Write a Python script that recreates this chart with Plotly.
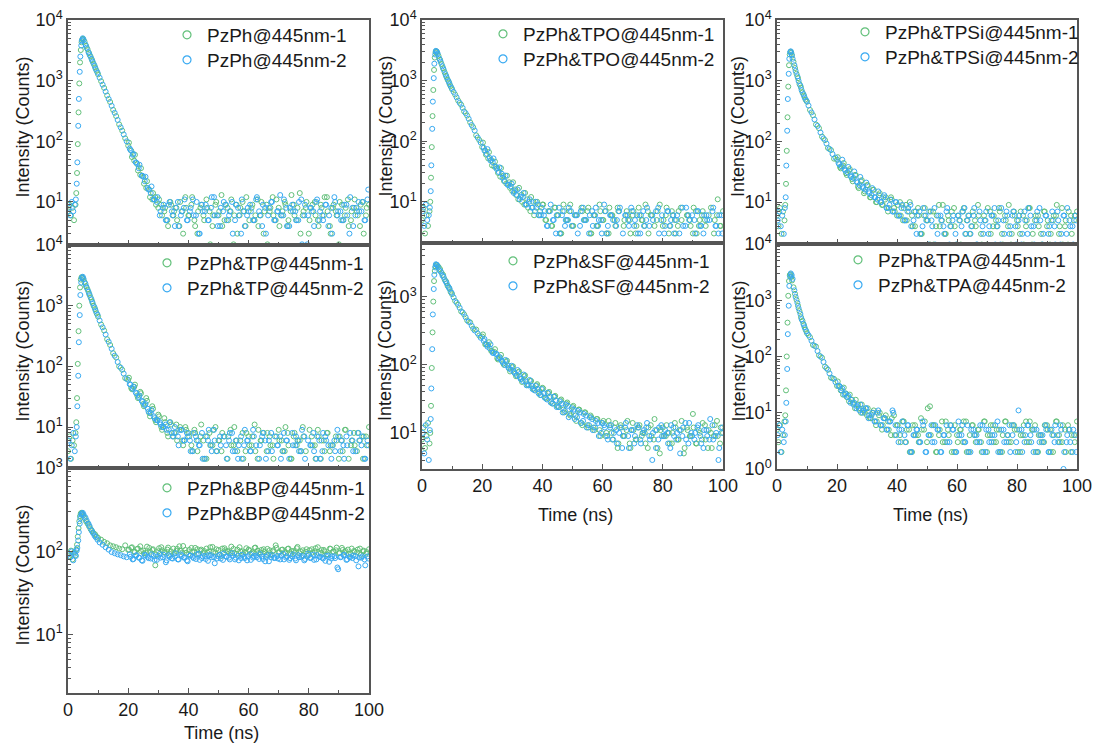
import plotly.graph_objects as go

# ---------------- time grids (ns) ----------------
T1 = [0, 0.5, 1, 1.5, 2, 2.5, 2.75, 3, 3.25, 3.5, 3.75, 4, 4.25, 4.5, 4.75, 5, 5.5, 6, 6.5, 7, 7.5, 8, 8.5, 9, 9.5, 10,
      11, 12, 13, 14, 15, 16, 17, 18, 19, 20, 21, 22, 23, 24, 25, 26, 27, 28, 29, 30,
      31, 32, 33, 34, 35, 36, 37, 38, 39, 40, 41, 42, 43, 44, 45, 46, 47, 48, 49, 50,
      51, 52, 53, 54, 55, 56, 57, 58, 59, 60, 61, 62, 63, 64, 65, 66, 67, 68, 69, 70,
      71, 72, 73, 74, 75, 76, 77, 78, 79, 80, 81, 82, 83, 84, 85, 86, 87, 88, 89, 90,
      91, 92, 93, 94, 95, 96, 97, 98, 99, 100]
T2 = [0.25, 0.75, 1.25, 1.75, 2.25, 2.6, 2.9, 3.1, 3.4, 3.6, 3.9, 4.1, 4.4, 4.6, 4.9, 5.2, 5.8, 6.2, 6.8, 7.2, 7.8, 8.2, 8.8, 9.2, 9.8,
      10.5, 11.5, 12.5, 13.5, 14.5, 15.5, 16.5, 17.5, 18.5, 19.5, 20.5, 21.5, 22.5, 23.5, 24.5, 25.5, 26.5, 27.5, 28.5, 29.5,
      30.5, 31.5, 32.5, 33.5, 34.5, 35.5, 36.5, 37.5, 38.5, 39.5, 40.5, 41.5, 42.5, 43.5, 44.5, 45.5, 46.5, 47.5, 48.5, 49.5,
      50.5, 51.5, 52.5, 53.5, 54.5, 55.5, 56.5, 57.5, 58.5, 59.5, 60.5, 61.5, 62.5, 63.5, 64.5, 65.5, 66.5, 67.5, 68.5, 69.5,
      70.5, 71.5, 72.5, 73.5, 74.5, 75.5, 76.5, 77.5, 78.5, 79.5, 80.5, 81.5, 82.5, 83.5, 84.5, 85.5, 86.5, 87.5, 88.5, 89.5,
      90.5, 91.5, 92.5, 93.5, 94.5, 95.5, 96.5, 97.5, 98.5, 99.5]
# extra tail channels (20-100 ns)
TB1 = [20.25, 21.25, 22.25, 23.25, 24.25, 25.25, 26.25, 27.25, 28.25, 29.25,
       30.25, 31.25, 32.25, 33.25, 34.25, 35.25, 36.25, 37.25, 38.25, 39.25,
       40.25, 41.25, 42.25, 43.25, 44.25, 45.25, 46.25, 47.25, 48.25, 49.25,
       50.25, 51.25, 52.25, 53.25, 54.25, 55.25, 56.25, 57.25, 58.25, 59.25,
       60.25, 61.25, 62.25, 63.25, 64.25, 65.25, 66.25, 67.25, 68.25, 69.25,
       70.25, 71.25, 72.25, 73.25, 74.25, 75.25, 76.25, 77.25, 78.25, 79.25,
       80.25, 81.25, 82.25, 83.25, 84.25, 85.25, 86.25, 87.25, 88.25, 89.25,
       90.25, 91.25, 92.25, 93.25, 94.25, 95.25, 96.25, 97.25, 98.25, 99.25]
TB2 = [20.75, 21.75, 22.75, 23.75, 24.75, 25.75, 26.75, 27.75, 28.75, 29.75,
       30.75, 31.75, 32.75, 33.75, 34.75, 35.75, 36.75, 37.75, 38.75, 39.75,
       40.75, 41.75, 42.75, 43.75, 44.75, 45.75, 46.75, 47.75, 48.75, 49.75,
       50.75, 51.75, 52.75, 53.75, 54.75, 55.75, 56.75, 57.75, 58.75, 59.75,
       60.75, 61.75, 62.75, 63.75, 64.75, 65.75, 66.75, 67.75, 68.75, 69.75,
       70.75, 71.75, 72.75, 73.75, 74.75, 75.75, 76.75, 77.75, 78.75, 79.75,
       80.75, 81.75, 82.75, 83.75, 84.75, 85.75, 86.75, 87.75, 88.75, 89.75,
       90.75, 91.75, 92.75, 93.75, 94.75, 95.75, 96.75, 97.75, 98.75, 99.75]

# ---------------- counts ----------------
PZPH_1 = [7, 9, 6, 8, 5, 9, 14, 30, 90, 300, 900, 2000, 3200, 4300, 4800, 4900, 4400, 3750, 3300, 2850, 2500, 2180, 1900, 1660, 1450, 1270,
          980, 760, 570, 445, 330, 260, 190, 150, 112, 85, 70, 48, 42, 28, 26, 17, 16, 11, 12, 8,
          9, 7, 5, 10, 6, 8, 4, 7, 12, 6, 9, 5, 3, 8, 6, 11, 7, 4, 9, 6,
          13, 5, 8, 7, 2, 9, 6, 10, 4, 7, 8, 5, 11, 6, 3, 9, 7, 12, 5, 8,
          6, 10, 4, 7, 9, 5, 14, 6, 8, 3, 7, 10, 5, 9, 6, 12, 4, 8, 7, 2,
          9, 6, 11, 5, 8, 7, 4, 10, 6, 9]
PZPH_2 = [8, 6, 10, 7, 9, 11, 20, 45, 180, 500, 1400, 2500, 3800, 4600, 5000, 4700, 3950, 3500, 2950, 2650, 2300, 2050, 1780, 1560, 1360,
          1120, 860, 660, 500, 385, 295, 225, 170, 130, 100, 76, 60, 45, 36, 27, 22, 17, 14, 11, 10,
          6, 8, 5, 9, 7, 4, 10, 6, 8, 5, 7, 11, 6, 3, 9, 7, 5, 8, 12, 6,
          4, 7, 9, 6, 10, 5, 8, 3, 7, 6, 9, 5, 11, 7, 4, 8, 6, 10, 5, 7,
          13, 6, 8, 4, 9, 7, 5, 11, 6, 2, 8, 7, 10, 5, 6, 9, 4, 8, 12, 6,
          7, 5, 9, 3, 8, 6, 10, 7, 5, 11]
PZPH_1B = [95, 55, 60, 33, 36, 20, 22, 12, 14, 9, 11, 6, 8, 4, 9, 7, 5, 10, 3, 8,
           6, 12, 4, 7, 9, 5, 8, 2, 6, 10, 7, 4, 9, 5, 11, 6, 3, 8, 7, 12,
           5, 9, 6, 4, 10, 7, 2, 8, 6, 11, 4, 7, 9, 5, 13, 6, 8, 3, 7, 10,
           5, 9, 6, 4, 8, 12, 7, 3, 9, 6, 10, 5, 8, 4, 7, 11, 6, 9, 3, 8]
PZPH_2B = [72, 62, 44, 41, 27, 26, 16, 18, 11, 12, 7, 9, 5, 10, 6, 8, 4, 7, 11, 5,
           8, 6, 10, 3, 7, 9, 5, 12, 6, 4, 8, 10, 5, 7, 3, 9, 6, 11, 4, 8,
           7, 5, 12, 6, 9, 3, 8, 10, 5, 7, 6, 11, 4, 8, 7, 5, 10, 2, 9, 6,
           8, 4, 11, 7, 5, 9, 6, 3, 10, 7, 5, 9, 6, 12, 4, 8, 7, 10, 5, 16]

TPO_1 = [5, 8, 3, 6, 4, 7, 10, 25, 80, 260, 700, 1500, 2400, 2950, 3050, 2950, 2550, 2200, 1880, 1600, 1380, 1200, 1040, 930, 810, 720,
         590, 470, 400, 310, 265, 205, 170, 125, 105, 80, 70, 52, 49, 38, 36, 26, 27, 20, 21, 15,
         16, 11, 13, 9, 11, 7, 10, 8, 6, 9,
         5, 7, 4, 8, 6, 3, 9, 5, 7, 4, 6, 2, 8, 5, 7, 3, 6, 4, 9, 5,
         7, 3, 6, 5, 8, 2, 4, 7, 5, 6, 3, 8, 5, 4, 7, 6, 2, 5, 9, 4,
         6, 3, 7, 5, 4, 8, 2, 6, 5, 3, 7, 4, 6, 5, 2, 8, 3, 6, 4, 7]
TPO_2 = [7, 4, 9, 5, 6, 8, 15, 40, 160, 450, 1100, 1900, 2700, 3100, 3000, 2800, 2300, 2050, 1720, 1520, 1270, 1130, 980, 870, 760,
         650, 530, 430, 355, 290, 235, 185, 150, 115, 95, 78, 62, 53, 45, 38, 31, 29, 22, 19, 18,
         14, 13, 11, 12, 9, 10, 8, 7, 9, 6,
         6, 4, 7, 5, 3, 8, 6, 4, 5, 7, 2, 6, 4, 8, 5, 3, 7, 6, 4, 5,
         9, 3, 6, 5, 4, 7, 2, 6, 5, 8, 4, 6, 3, 7, 5, 4, 6, 2, 8, 5,
         3, 7, 4, 6, 5, 3, 8, 4, 6, 2, 5, 7, 4, 3, 6, 5, 7, 4, 3, 6]
TPO_1B = [95, 60, 66, 40, 46, 30, 36, 22, 27, 17, 21, 13, 17, 10, 14, 8, 12, 6, 10, 7,
          9, 5, 7, 4, 8, 6, 3, 7, 5, 9, 4, 6, 2, 7, 5, 8, 3, 6, 4, 7,
          5, 3, 8, 6, 4, 7, 2, 5, 6, 3, 7, 4, 6, 5, 9, 3, 6, 4, 7, 2,
          5, 8, 4, 6, 3, 7, 5, 2, 6, 4, 8, 3, 5, 7, 4, 6, 2, 5, 11, 4]
TPO_2B = [70, 74, 48, 52, 35, 37, 25, 27, 19, 20, 15, 16, 12, 14, 9, 11, 8, 10, 6, 8,
          7, 4, 9, 5, 6, 3, 7, 5, 8, 4, 6, 3, 7, 5, 2, 6, 4, 8, 5, 3,
          7, 4, 6, 2, 5, 8, 3, 6, 4, 7, 5, 3, 6, 4, 8, 2, 5, 7, 3, 6,
          4, 7, 5, 3, 6, 2, 4, 8, 5, 6, 3, 7, 4, 6, 5, 2, 8, 4, 6, 3]

TPSI_1 = [6, 4, 8, 3, 7, 5, 9, 20, 70, 250, 800, 1800, 2700, 3000, 2900, 2600, 2050, 1620, 1300, 1100, 880, 770, 640, 570, 490, 450,
          330, 270, 190, 165, 120, 105, 78, 72, 52, 50, 38, 40, 30, 33, 24, 28, 18, 22, 14, 19,
          12, 16, 10, 13, 9, 11, 7, 12, 8, 6, 10, 5, 9, 7, 6,
          4, 8, 3, 6, 5, 2, 7, 4, 9, 5, 3, 6, 4, 8, 2, 5, 7, 3, 6, 4,
          5, 9, 3, 6, 2, 7, 4, 5, 8, 3, 6, 4, 2, 7, 5, 3, 6, 4, 8, 2,
          5, 6, 3, 7, 4, 2, 5, 6, 3, 8, 4, 2, 6, 5, 7]
TPSI_2 = [5, 7, 4, 6, 3, 8, 12, 40, 150, 500, 1300, 2300, 2950, 3050, 2700, 2300, 1800, 1450, 1180, 990, 830, 700, 600, 530, 470,
          390, 300, 230, 180, 140, 112, 92, 75, 62, 54, 44, 39, 35, 31, 27, 25, 22, 19, 18, 16,
          15, 13, 12, 11, 10, 12, 8, 9, 7, 10, 6, 8, 5, 7, 9,
          5, 3, 7, 4, 6, 2, 5, 8, 3, 6, 4, 7, 2, 5, 3, 6, 4, 8, 5, 3,
          6, 2, 7, 4, 5, 3, 6, 8, 4, 2, 5, 7, 3, 6, 4, 5, 2, 7, 3, 6,
          4, 5, 8, 2, 6, 3, 5, 4, 7, 2, 6, 3, 5, 4, 6]
TPSI_1B = [55, 36, 44, 28, 35, 22, 28, 17, 23, 15, 19, 12, 16, 10, 14, 9, 12, 8, 11, 7,
           9, 6, 8, 5, 10, 4, 7, 6, 3, 8, 5, 7, 2, 6, 4, 9, 3, 5, 7, 4,
           6, 2, 8, 5, 3, 7, 4, 6, 2, 5, 8, 3, 6, 4, 7, 2, 5, 9, 3, 6,
           4, 7, 2, 5, 8, 3, 6, 4, 2, 7, 5, 3, 6, 9, 4, 2, 5, 7, 3, 6]
TPSI_2B = [42, 50, 33, 38, 26, 32, 21, 26, 17, 21, 14, 17, 12, 15, 10, 13, 8, 11, 7, 10,
           6, 9, 5, 8, 4, 7, 6, 3, 8, 5, 7, 4, 2, 6, 5, 3, 8, 4, 6, 2,
           5, 7, 3, 6, 4, 8, 2, 5, 3, 7, 4, 6, 2, 5, 8, 3, 6, 4, 7, 2,
           6, 3, 5, 8, 4, 2, 7, 5, 3, 6, 4, 7, 2, 5, 3, 6, 8, 4, 2, 5]

TP_1 = [4, 7, 3, 6, 5, 8, 12, 30, 110, 380, 1000, 2000, 2700, 2950, 2900, 2850, 2450, 2100, 1850, 1580, 1370, 1170, 1000, 880, 750, 660,
        490, 390, 280, 225, 165, 140, 100, 88, 64, 60, 44, 46, 33, 38, 24, 30, 17, 22, 13, 16,
        10, 14, 8, 12, 7, 11, 9, 6, 10, 8,
        5, 9, 4, 7, 6, 3, 8, 5, 10, 6, 4, 7, 3, 9, 5, 6, 2, 8, 4, 7,
        5, 11, 3, 6, 8, 4, 7, 5, 2, 9, 6, 4, 8, 3, 7, 5, 6, 10, 4, 2,
        7, 5, 9, 3, 6, 8, 4, 5, 7, 3, 6, 9, 2, 5, 8, 4, 6, 3, 7, 10]
TP_2 = [6, 3, 5, 8, 4, 7, 10, 22, 70, 250, 700, 1500, 2400, 2900, 3000, 2750, 2300, 2000, 1700, 1500, 1270, 1100, 940, 820, 710,
        570, 440, 335, 255, 195, 150, 118, 95, 76, 62, 51, 43, 37, 31, 27, 23, 20, 17, 15, 13,
        12, 10, 11, 9, 8, 10, 7, 9, 6, 8,
        6, 4, 7, 5, 8, 3, 6, 5, 9, 4, 7, 2, 5, 6, 8, 4, 3, 7, 5, 6,
        4, 9, 5, 3, 7, 6, 4, 8, 2, 5, 7, 4, 6, 3, 8, 5, 6, 4, 7, 2,
        5, 8, 3, 6, 4, 7, 5, 3, 6, 9, 4, 5, 7, 2, 6, 4, 8, 5, 3, 6]
TP_1B = [65, 42, 50, 30, 36, 22, 27, 15, 20, 12, 15, 9, 12, 7, 11, 8, 6, 10, 5, 9,
         7, 4, 8, 6, 11, 3, 7, 5, 9, 4, 6, 8, 2, 7, 5, 10, 4, 6, 3, 8,
         5, 7, 4, 9, 6, 2, 8, 5, 3, 7, 6, 4, 10, 5, 3, 8, 6, 4, 7, 2,
         9, 5, 3, 7, 6, 4, 8, 5, 2, 6, 7, 4, 9, 3, 6, 5, 8, 2, 7, 5]
TP_2B = [50, 46, 36, 33, 26, 24, 18, 19, 14, 13, 11, 10, 9, 12, 7, 8, 5, 9, 6, 7,
         4, 8, 6, 5, 3, 7, 9, 4, 6, 2, 5, 7, 3, 8, 4, 6, 5, 3, 9, 6,
         4, 7, 2, 5, 8, 3, 6, 4, 7, 5, 3, 8, 6, 2, 5, 7, 4, 9, 3, 6,
         5, 4, 7, 3, 8, 6, 2, 5, 4, 7, 6, 3, 5, 8, 4, 2, 6, 7, 3, 5]

SF_1 = [8, 12, 6, 9, 14, 7, 10, 25, 90, 300, 850, 1700, 2400, 2800, 2950, 2900, 2750, 2550, 2250, 2100, 1800, 1680, 1450, 1350, 1180, 1090,
        870, 760, 610, 550, 450, 420, 340, 330, 270, 260,
        200, 195, 160, 155, 125, 128, 105, 110, 88, 92,
        74, 78, 62, 68, 52, 58, 45, 50, 40, 46,
        33, 38, 29, 34, 25, 30, 22, 27, 19, 24,
        18, 22, 14, 20, 13, 18, 12, 16, 11, 14,
        9, 15, 10, 12, 6, 13, 9, 11, 7, 14,
        8, 12, 9, 10, 6, 13, 8, 11, 5, 12,
        9, 10, 7, 14, 8, 11, 5, 12, 9, 19,
        7, 11, 8, 13, 6, 10, 9, 15, 7, 10]
SF_2 = [10, 5, 13, 8, 4, 11, 16, 45, 170, 550, 1300, 2100, 2700, 3000, 2950, 2800, 2450, 2350, 2050, 1950, 1700, 1580, 1400, 1300, 1150,
        980, 820, 690, 590, 500, 430, 375, 320, 290, 250,
        225, 200, 175, 150, 145, 125, 115, 100, 98, 85,
        80, 70, 66, 58, 57, 50, 49, 42, 44, 36,
        38, 31, 34, 27, 30, 24, 27, 21, 25, 19,
        22, 17, 20, 15, 18, 13, 16, 12, 14, 10,
        13, 9, 12, 8, 11, 10, 6, 12, 9, 11,
        7, 13, 8, 10, 12, 9, 4, 11, 8, 13,
        9, 10, 6, 12, 8, 11, 9, 14, 7, 10,
        8, 12, 9, 6, 11, 8, 13, 9, 4, 10]
SF_1B = [280, 200, 215, 160, 170, 120, 140, 100, 115, 80, 95, 68, 80, 56, 70, 50, 58, 43, 52, 36,
         45, 32, 40, 27, 35, 24, 31, 20, 28, 18, 25, 15, 22, 13, 20, 12, 17, 11, 16, 9,
         15, 10, 13, 8, 14, 7, 12, 9, 15, 6, 11, 8, 13, 10, 7, 12, 9, 16, 6, 11,
         9, 13, 7, 10, 12, 8, 15, 6, 11, 9, 12, 7, 10, 14, 8, 11, 6, 13, 9, 12]
SF_2B = [240, 185, 200, 150, 145, 130, 110, 118, 90, 97, 76, 84, 62, 72, 50, 60, 44, 49, 38, 44,
         33, 39, 28, 34, 24, 29, 20, 26, 17, 23, 16, 21, 14, 19, 12, 17, 11, 15, 9, 14,
         12, 8, 13, 10, 7, 12, 9, 14, 6, 11, 9, 12, 7, 11, 14, 8, 10, 6, 12, 9,
         11, 7, 13, 9, 10, 5, 12, 8, 14, 9, 10, 13, 7, 11, 9, 16, 8, 10, 6, 12]

TPA_1 = [5, 3, 6, 2, 4, 7, 9, 25, 100, 400, 1200, 2200, 2800, 2900, 2600, 2250, 1700, 1300, 1020, 800, 640, 500, 430, 360, 300, 260,
         220, 160, 150, 105, 95, 66, 58, 42, 40, 30, 29, 21, 22, 16, 17, 12, 14, 10, 11, 9,
         8, 10, 6, 9, 5, 8, 7, 4, 9, 6,
         4, 7, 3, 5, 2, 6, 4, 8, 5, 3, 13, 6, 2, 4, 7, 3, 5, 6, 2, 4,
         5, 3, 7, 2, 6, 4, 5, 3, 7, 2, 4, 6, 3, 5, 2, 7, 4, 3, 6, 5,
         2, 4, 7, 3, 5, 6, 2, 4, 3, 6, 5, 2, 7, 4, 3, 5, 6, 2, 4, 7]
TPA_2 = [4, 6, 2, 5, 3, 4, 7, 15, 60, 250, 800, 1800, 2600, 3000, 2800, 2400, 1500, 1150, 900, 720, 570, 460, 380, 330, 280,
         240, 190, 155, 125, 100, 80, 62, 50, 41, 35, 30, 25, 21, 19, 15, 14, 12, 11, 10, 12,
         8, 9, 7, 10, 6, 8, 5, 7, 11, 6,
         3, 5, 4, 6, 2, 4, 5, 3, 7, 2, 4, 6, 3, 5, 2, 4, 6, 3, 5, 2,
         7, 4, 3, 6, 2, 5, 4, 3, 6, 2, 5, 3, 4, 7, 2, 5, 3, 6, 4, 2,
         11, 5, 3, 6, 4, 2, 5, 3, 4, 6, 2, 5, 3, 4, 6, 1, 3, 5, 2, 4]
TPA_1B = [36, 25, 28, 19, 21, 15, 17, 12, 14, 10, 12, 8, 11, 7, 10, 6, 9, 5, 8, 4,
          6, 3, 7, 5, 2, 6, 4, 3, 5, 7, 12, 4, 6, 2, 5, 3, 7, 4, 2, 6,
          3, 5, 7, 2, 4, 6, 3, 5, 2, 7, 4, 6, 3, 5, 2, 4, 7, 3, 6, 5,
          2, 4, 6, 3, 7, 5, 2, 4, 3, 6, 5, 2, 4, 7, 3, 6, 2, 5, 4, 3]
TPA_2B = [30, 27, 22, 20, 17, 15, 13, 14, 11, 12, 9, 10, 7, 11, 6, 8, 5, 7, 10, 4,
          5, 7, 3, 6, 2, 4, 5, 3, 6, 2, 4, 3, 6, 5, 2, 4, 3, 6, 5, 2,
          4, 6, 3, 2, 5, 4, 3, 6, 2, 5, 3, 4, 6, 2, 5, 3, 4, 2, 6, 3,
          5, 2, 4, 6, 3, 5, 2, 4, 3, 5, 2, 4, 6, 3, 5, 2, 4, 3, 5, 2]

BP_1 = [95, 88, 102, 80, 97, 90, 105, 120, 150, 190, 230, 265, 285, 290, 280, 270, 250, 230, 215, 200, 185, 175, 165, 160, 150, 145,
        138, 130, 125, 118, 115, 112, 108, 106, 118, 104,
        110, 99, 107, 115, 102, 96, 110, 104, 68, 100,
        112, 98, 105, 93, 108, 101, 115, 97, 104, 92,
        110, 99, 106, 102, 95, 108, 100, 113, 97, 104,
        88, 109, 101, 96, 107, 93, 112, 100, 98, 105,
        94, 110, 102, 97, 106, 91, 103, 100, 118, 96,
        104, 98, 107, 93, 101, 109, 95, 103, 99, 90,
        106, 100, 112, 96, 104, 92, 108, 99, 103, 95,
        110, 98, 105, 93, 101, 97, 108, 100, 94, 106]
BP_2 = [92, 85, 100, 78, 94, 88, 102, 110, 135, 170, 215, 250, 275, 285, 290, 275, 255, 235, 215, 200, 180, 168, 155, 148, 138,
        128, 120, 112, 105, 98, 95, 92, 90, 87, 85,
        92, 80, 89, 84, 78, 91, 86, 82, 88, 79,
        93, 85, 74, 90, 83, 87, 80, 92, 84, 78,
        89, 86, 81, 94, 83, 88, 77, 90, 85, 82,
        91, 79, 87, 84, 95, 80, 88, 83, 86, 78,
        92, 84, 89, 81, 87, 76, 90, 85, 83, 88,
        80, 93, 84, 79, 87, 82, 90, 85, 78, 88,
        83, 91, 80, 86, 84, 77, 89, 82, 87, 64,
        85, 90, 79, 86, 83, 88, 66, 84, 80, 87]
BP_1B = [105, 112, 98, 108, 101, 95, 114, 99, 106, 92, 109, 103, 97, 111, 100, 94, 107, 102, 116, 96,
         104, 99, 110, 93, 105, 101, 97, 112, 98, 106, 91, 108, 103, 99, 114, 96, 105, 100, 93, 109,
         102, 97, 111, 95, 104, 99, 107, 92, 103, 110, 98, 105, 94, 108, 101, 96, 113, 100, 89, 106,
         103, 97, 109, 95, 104, 100, 92, 107, 99, 111, 96, 104, 101, 93, 108, 99, 105, 91, 102, 98]
BP_2B = [86, 81, 90, 84, 77, 89, 83, 92, 79, 87, 84, 91, 78, 86, 82, 95, 80, 88, 85, 76,
         89, 83, 92, 79, 87, 81, 90, 85, 72, 88, 82, 94, 86, 80, 89, 84, 78, 91, 83, 87,
         79, 88, 85, 93, 81, 86, 76, 90, 84, 82, 89, 80, 87, 83, 92, 78, 85, 88, 81, 94,
         84, 79, 90, 86, 82, 88, 75, 87, 83, 61, 86, 91, 80, 85, 89, 78, 84, 87, 68, 82]

SAMPLES = ["PzPh", "PzPh&TPO", "PzPh&TPSi", "PzPh&TP", "PzPh&SF", "PzPh&TPA", "PzPh&BP"]
SERIES = [
    ((PZPH_1, PZPH_1B), (PZPH_2, PZPH_2B)),
    ((TPO_1, TPO_1B), (TPO_2, TPO_2B)),
    ((TPSI_1, TPSI_1B), (TPSI_2, TPSI_2B)),
    ((TP_1, TP_1B), (TP_2, TP_2B)),
    ((SF_1, SF_1B), (SF_2, SF_2B)),
    ((TPA_1, TPA_1B), (TPA_2, TPA_2B)),
    ((BP_1, BP_1B), (BP_2, BP_2B)),
]
Y_TICK_EXP = [0, 1, 2, 3, 4]

for (a, ab), (b, bb) in SERIES:
    assert len(a) == len(T1) and len(b) == len(T2), (len(a), len(b))
    assert len(ab) == len(TB1) and len(bb) == len(TB2), (len(ab), len(bb))

# ---------------- layout geometry (pixels) ----------------
W, H = 1096, 744
GREEN = "#62c07a"
BLUE = "#38aaf2"
AXC = "#555555"
TXT = "#1a1a1a"
FONT = "Arial, 'Liberation Sans', sans-serif"

# x0, x1, ytop, ybottom, log-range, x tick labels, legend text start x, legend row-1 centre y
GEOM = [
    (68, 369, 20, 245, [0.29, 4.0005], False, 207, 35),
    (422, 723, 20, 243, [0.32, 4.0005], False, 523, 34),
    (777, 1077, 20, 244, [0.31, 4.0005], False, 885, 32),
    (68, 369, 245, 468, [0.325, 4.0005], False, 187, 263),
    (422, 723, 243, 469, [0.47, 3.79], True, 533, 261),
    (777, 1077, 244, 469, [-0.0005, 4.0005], True, 878, 260),
    (68, 369, 468, 693, [0.3, 3.0005], True, 187, 488),
]
ROW_GAP = 25


def fx(p):
    return p / W


def fy(p):
    return 1 - p / H


fig = go.Figure()
layout = dict(
    width=W, height=H, margin=dict(l=0, r=0, t=0, b=0, autoexpand=False),
    paper_bgcolor="white", plot_bgcolor="white",
    font=dict(family=FONT, color=TXT), showlegend=True,
)
minor_vals = [m * 10 ** k for k in range(0, 4) for m in range(2, 10)]
annotations = []
leg_id = 0

for i, (name, series, g) in enumerate(zip(SAMPLES, SERIES, GEOM)):
    n = i + 1
    x0, x1, yt, yb, yr, xlab, lx, ly = g
    xa = "x" if n == 1 else f"x{n}"
    ya = "y" if n == 1 else f"y{n}"
    for k, ((main, extra), (tmain, textra), col) in enumerate(zip(series, ((T1, TB1), (T2, TB2)), (GREEN, BLUE))):
        fig.add_trace(go.Scatter(
            x=tmain + textra, y=main + extra, mode="markers", xaxis=xa, yaxis=ya, showlegend=False,
            marker=dict(symbol="circle-open", size=5, color=col, line=dict(width=1, color=col)),
            hoverinfo="skip"))
    for k, col in enumerate((GREEN, BLUE)):
        leg_id += 1
        leg = "legend" if leg_id == 1 else f"legend{leg_id}"
        fig.add_trace(go.Scatter(
            x=[None], y=[None], mode="markers", xaxis=xa, yaxis=ya, legend=leg,
            name=f"{name}@445nm-{k + 1}",
            marker=dict(symbol="circle-open", size=8, color=col, line=dict(width=1.2, color=col))))
        layout[leg] = dict(
            x=fx(lx - 40), y=fy(ly + k * ROW_GAP), xanchor="left", yanchor="middle",
            bgcolor="rgba(0,0,0,0)", borderwidth=0, tracegroupgap=0, itemwidth=30,
            font=dict(size=19, color=TXT, family=FONT))
    layout["xaxis" if n == 1 else f"xaxis{n}"] = dict(
        domain=[fx(x0), fx(x1)], anchor=ya, range=[0, 100], tick0=0, dtick=20,
        ticks="inside", ticklen=5, tickwidth=1.2, tickcolor=AXC,
        minor=dict(ticks="inside", ticklen=3, dtick=10, tickcolor=AXC, tickwidth=1),
        showline=True, linecolor=AXC, linewidth=1.5, mirror=True, automargin=False,
        showgrid=False, zeroline=False, showticklabels=xlab,
        tickfont=dict(size=18, color=TXT, family=FONT))
    layout["yaxis" if n == 1 else f"yaxis{n}"] = dict(
        domain=[fy(yb), fy(yt)], anchor=xa, type="log", range=yr,
        tickmode="array", tickvals=[10 ** e for e in Y_TICK_EXP],
        ticktext=[f"10<sup>{e}</sup>" for e in Y_TICK_EXP],
        ticks="inside", ticklen=5, tickwidth=1.2, tickcolor=AXC,
        minor=dict(ticks="inside", ticklen=3, tickmode="array", tickvals=minor_vals, tickcolor=AXC, tickwidth=1),
        showline=True, linecolor=AXC, linewidth=1.5, mirror=True, automargin=False,
        showgrid=False, zeroline=False,
        tickfont=dict(size=18, color=TXT, family=FONT))
    # axis titles
    ytitle_x = {68: 22, 422: 385, 777: 738}[x0]
    annotations.append(dict(
        text="Intensity (Counts)", textangle=-90, x=fx(ytitle_x), y=fy((yt + yb) / 2 - 5),
        xref="paper", yref="paper", showarrow=False, xanchor="center", yanchor="middle",
        font=dict(size=18, color=TXT, family=FONT)))
    if xlab:
        ty = yb + 40 if yb > 600 else yb + 46
        annotations.append(dict(
            text="Time (ns)", x=fx((x0 + x1) / 2 + 3), y=fy(ty),
            xref="paper", yref="paper", showarrow=False, xanchor="center", yanchor="middle",
            font=dict(size=18, color=TXT, family=FONT)))

layout["annotations"] = annotations
fig.update_layout(**layout)
fig.write_html("out.html")
